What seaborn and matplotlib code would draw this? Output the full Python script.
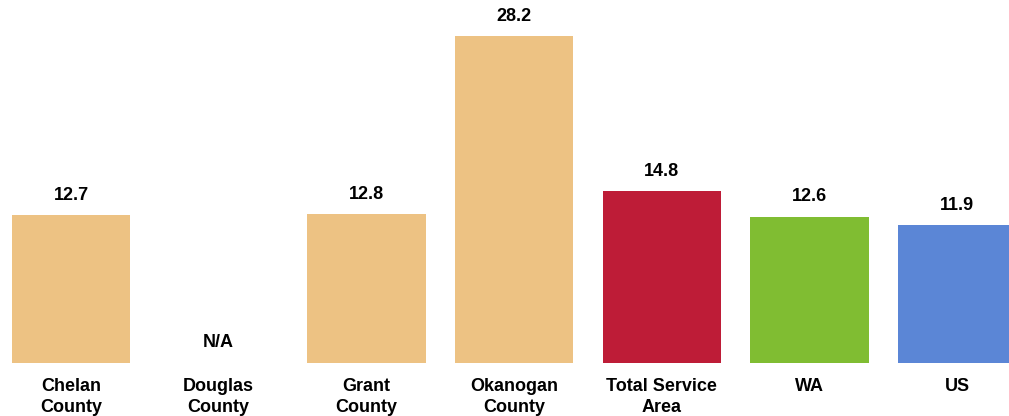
import numpy as np
import pandas as pd
import matplotlib
matplotlib.use("Agg")
import matplotlib.pyplot as plt
import seaborn as sns

# Data
categories = ["Chelan\nCounty", "Douglas\nCounty", "Grant\nCounty", "Okanogan\nCounty",
              "Total Service\nArea", "WA", "US"]
values = [12.7, np.nan, 12.8, 28.2, 14.8, 12.6, 11.9]
bar_colors = ["#EDC283", "#EDC283", "#EDC283", "#EDC283", "#BE1C37", "#80BD32", "#5B86D6"]

sns.set_theme(style="white")
plt.rcParams["font.family"] = ["Liberation Sans Narrow", "Liberation Sans", "DejaVu Sans"]

df = pd.DataFrame({"Area": categories, "Value": values})

fig = plt.figure(figsize=(10.09, 4.16), dpi=100)
ax = fig.add_axes([-2.85 / 1009, 53.5 / 416, 1034 / 1009, 347.4 / 416])

sns.barplot(data=df, x="Area", y="Value", hue="Area", palette=dict(zip(categories, bar_colors)),
            width=0.8, legend=False, saturation=1, linewidth=0, ax=ax)

# value labels
for i, v in enumerate(values):
    label = "N/A" if np.isnan(v) else f"{v:.1f}"
    y = 0 if np.isnan(v) else v
    ax.annotate(label, (i, y), xytext=(0, 8), textcoords="offset points",
                ha="center", va="bottom", fontsize=13, fontweight="bold", color="black")

ax.set_ylim(0, 30)
ax.set_xlim(-0.5, len(categories) - 0.5)
ax.set_xlabel("")
ax.set_ylabel("")
ax.set_yticks([])
ax.tick_params(axis="x", length=0, pad=11, colors="black")
for lbl in ax.get_xticklabels():
    lbl.set_fontsize(13)
    lbl.set_fontweight("bold")
    lbl.set_linespacing(1.35)
for s in ax.spines.values():
    s.set_visible(False)

fig.savefig("out.png", dpi=100)
